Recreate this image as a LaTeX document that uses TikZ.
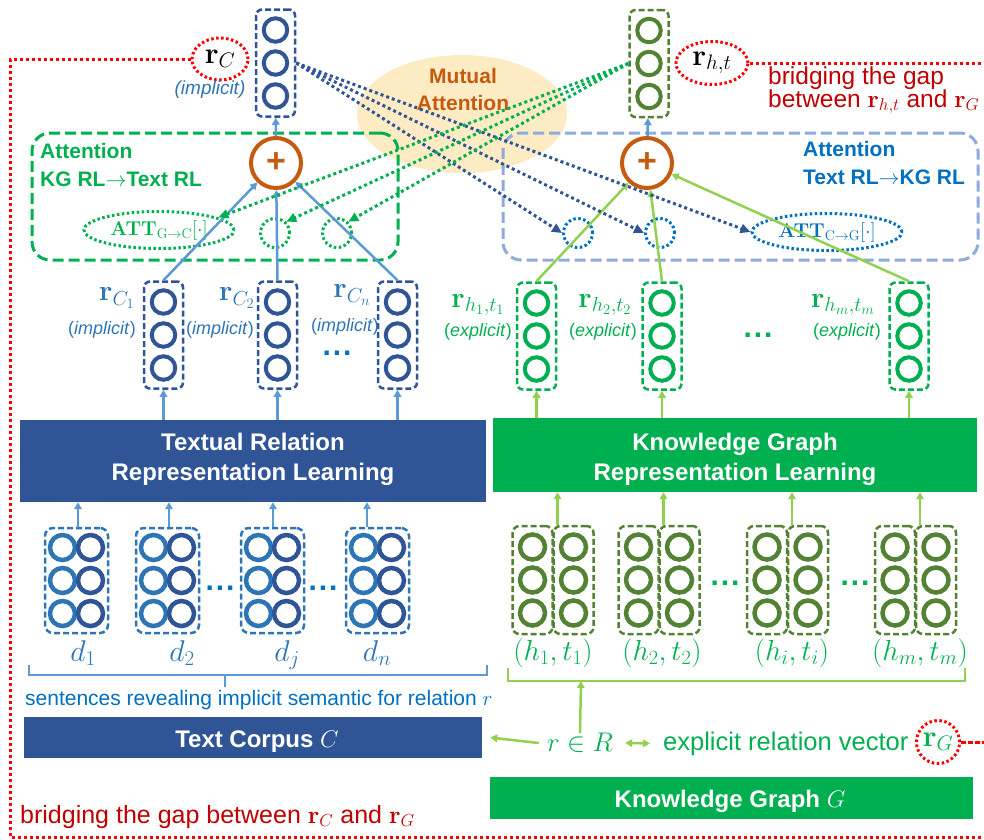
\RequirePackage{fix-cm}
\documentclass[tikz,border=0pt]{standalone}
\usepackage[no-math]{fontspec}
\setmainfont{Liberation Sans}
\usetikzlibrary{arrows.meta,shapes.geometric,calc}
\definecolor{cDB}{HTML}{2F5597}
\definecolor{cMB}{HTML}{2E75B6}
\definecolor{cLB}{HTML}{5B9BD5}
\definecolor{cPB}{HTML}{8FAADC}
\definecolor{cTB}{HTML}{0070C0}
\definecolor{cG}{HTML}{00B050}
\definecolor{cLG}{HTML}{92D050}
\definecolor{cDG}{HTML}{548235}
\definecolor{cOr}{HTML}{C55A11}
\definecolor{cRd}{HTML}{FF0000}
\definecolor{cDR}{HTML}{C00000}
\definecolor{cYel}{HTML}{FDEBC3}
\newcommand\fsz[2]{\fontsize{#1}{#2}\selectfont}
\newcommand\tdots{.\kern2pt.\kern2pt.}
\tikzset{
  ring/.style={circle,draw=#1,line width=4pt,minimum size=23.5pt,inner sep=0pt},
  bring/.style={circle,draw=#1,line width=4.5pt,minimum size=25pt,inner sep=0pt},
  vbox/.style={draw=#1,line width=2.5pt,dash pattern=on 6pt off 3pt,rounded corners=6pt,minimum width=39pt,minimum height=107pt,inner sep=0pt},
  dbox/.style={draw=cMB,line width=2.5pt,dash pattern=on 6pt off 3pt,rounded corners=8pt,minimum width=63pt,minimum height=105pt,inner sep=0pt},
  kbox/.style={draw=cDG,line width=2.5pt,dash pattern=on 6pt off 3pt,rounded corners=7pt,minimum width=40pt,minimum height=108pt,inner sep=0pt},
  attbox/.style={draw=#1,line width=3pt,dash pattern=on 11pt off 5pt,rounded corners=18pt,inner sep=0pt},
  plusc/.style={circle,draw=cOr,fill=white,line width=4pt,minimum size=50pt,inner sep=0pt,text=cOr,font=\bfseries\fsz{34}{34}},
  redell/.style={ellipse,draw=cRd,line width=3pt,dash pattern=on 2.5pt off 2.5pt,inner sep=0pt,font=\fsz{30}{30}},
  smallc/.style={circle,draw=#1,line width=3pt,dash pattern=on 2.5pt off 2.5pt,minimum size=29pt,inner sep=0pt},
  attell/.style={ellipse,draw=#1,text=#1,line width=3pt,dash pattern=on 2.5pt off 2.5pt,minimum width=150pt,minimum height=37pt,inner sep=0pt,font=\fsz{20}{20}},
  bigbox/.style={fill=#1,draw=none,inner sep=0pt},
  boxtxt/.style={text=white,font=\bfseries\fsz{24}{30},anchor=base,inner sep=0pt},
  upar/.style={draw=#1,line width=2.5pt,-{Triangle[length=7pt,width=7.5pt]}},
  dotar/.style={draw=#1,line width=3pt,dash pattern=on 3pt off 3pt,-{Triangle[length=10pt,width=9pt]}},
  reddot/.style={draw=cRd,line width=3pt,dash pattern=on 3pt off 3pt},
  mlab/.style={text=#1,font=\fsz{29}{29},inner sep=0pt},
  ilab/.style={text=#1,font=\fsz{18}{20},inner sep=0pt},
  ellip/.style={text=#1,font=\bfseries\fsz{30}{30},inner sep=0pt,anchor=base},
}
\newcommand\VecThree[5]{%
  \node[vbox=#4] (#1) at (#2,#3) {};
  \foreach \k/\dy in {1/-33,2/0,3/33}{\node[ring=#5] (#1-\k) at ({#2},{#3+(\dy)}) {};}
}
\newcommand\DocBlock[3]{%
  \node[dbox] (#1) at (#2,#3) {};
  \foreach \k/\dy in {1/-33,2/0,3/33}{%
    \node[bring=cMB] (#1-a\k) at ({#2-14},{#3+(\dy)}) {};
    \node[bring=cDB] (#1-b\k) at ({#2+14},{#3+(\dy)}) {};}
}
\newcommand\KGPair[3]{%
  \node[kbox] (#1-l) at (#2,#3) {};
  \node[kbox] (#1-r) at ({#2+41},#3) {};
  \foreach \k/\dy in {1/-33,2/0,3/33}{%
    \node[bring=cDG] (#1-a\k) at ({#2},{#3+(\dy)}) {};
    \node[bring=cDG] (#1-b\k) at ({#2+41},{#3+(\dy)}) {};}
}
\begin{document}
\begin{tikzpicture}[x=1pt,y=-1pt]
\useasboundingbox (0,0) rectangle (984,839);
% mutual attention
\node[ellipse,fill=cYel,minimum width=210pt,minimum height=118pt,inner sep=0pt] (mut) at (462,114) {};
\node[text=cOr,font=\bfseries\fsz{21}{27},align=center,inner sep=0pt] (mutT) at (463,89) {Mutual\\Attention};
% attention boxes
\node[attbox=cG,minimum width=366pt,minimum height=127pt] (attL) at (215,196.5) {};
\node[attbox=cPB,minimum width=475pt,minimum height=127pt] (attR) at (740.5,196.5) {};
\node[anchor=north west,text=cG,font=\bfseries\fsz{21}{28},align=left,inner sep=0pt] (attLT) at (40,143) {Attention\\KG RL$\rightarrow$Text RL};
\node[anchor=north west,text=cTB,font=\bfseries\fsz{21}{28},align=left,inner sep=0pt] (attRT) at (803,141) {Attention\\Text RL$\rightarrow$KG RL};
% attention targets
\node[attell=cG] (attGC) at (159,230) {$\mathbf{ATT}_{\mathrm{G\to C}}[\cdot]$};
\node[smallc=cG] (g2) at (275,233) {};
\node[smallc=cG] (g3) at (337,233) {};
\node[smallc=cTB] (s1) at (578,233) {};
\node[smallc=cTB] (s2) at (660,233) {};
\node[attell=cTB] (attCG) at (827,232) {$\mathbf{ATT}_{\mathrm{C\to G}}[\cdot]$};
% plus circles
\node[plusc] (pL) at (276,163) {+};
\node[plusc] (pR) at (647,163) {+};
% top vectors
\VecThree{vC}{275.5}{63}{cDB}{cDB}
\VecThree{vH}{649}{63.5}{cDG}{cDG}
\node[redell,minimum width=56pt,minimum height=42pt] (rC) at (220,59) {$\mathbf{r}_C$};
\node[ilab=cMB,font=\itshape\fsz{19}{20}] (implT) at (210,90) {(implicit)};
\node[redell,minimum width=72pt,minimum height=43pt] (rHT) at (712,63) {$\mathbf{r}_{h,t}$};
\node[anchor=base west,text=cDR,font=\fsz{24.5}{24},inner sep=0pt] (br1) at (768,84) {bridging the gap};
\node[anchor=base west,text=cDR,font=\fsz{24.5}{24},inner sep=0pt] (br2) at (768,107) {between $\mathbf{r}_{h,t}$ and $\mathbf{r}_G$};
% middle vectors
\VecThree{rc1}{163.5}{335}{cDB}{cDB}
\VecThree{rc2}{277.5}{335}{cDB}{cDB}
\VecThree{rcn}{397.5}{335}{cDB}{cDB}
\VecThree{rh1}{536.5}{336}{cG}{cG}
\VecThree{rh2}{662}{336}{cG}{cG}
\VecThree{rhm}{909}{336}{cG}{cG}
\node[mlab=cMB] (lc1) at (117,298) {$\mathbf{r}_{C_1}$};
\node[ilab=cMB] (ic1) at (102,330) {(\textit{implicit})};
\node[mlab=cMB] (lc2) at (237,298) {$\mathbf{r}_{C_2}$};
\node[ilab=cMB] (ic2) at (220,330) {(\textit{implicit})};
\node[mlab=cMB] (lcn) at (352,295) {$\mathbf{r}_{C_n}$};
\node[ilab=cMB] (icn) at (345,327) {(\textit{implicit})};
\node[ellip=cTB] (dotC) at (337,355) {\tdots};
\node[mlab=cG] (lh1) at (478,305) {$\mathbf{r}_{h_1,t_1}$};
\node[ilab=cG] (eh1) at (478,332) {(\textit{explicit})};
\node[mlab=cG] (lh2) at (605,305) {$\mathbf{r}_{h_2,t_2}$};
\node[ilab=cG] (eh2) at (603,332) {(\textit{explicit})};
\node[mlab=cG] (lhm) at (843,305) {$\mathbf{r}_{h_m,t_m}$};
\node[ilab=cG] (ehm) at (847,332) {(\textit{explicit})};
\node[ellip=cG] (dotH) at (758,337) {\tdots};
% representation learning boxes
\node[bigbox=cDB,minimum width=466pt,minimum height=82pt] (trl) at (253,461) {};
\node[boxtxt] (trl1) at (253,450) {Textual Relation};
\node[boxtxt] (trl2) at (253,480) {Representation Learning};
\node[bigbox=cG,minimum width=484pt,minimum height=74pt] (kgrl) at (735,455) {};
\node[boxtxt] (kgrl1) at (735,450) {Knowledge Graph};
\node[boxtxt] (kgrl2) at (735,480) {Representation Learning};
% documents
\DocBlock{d1}{76.5}{580.5}
\DocBlock{d2}{167.5}{580.5}
\DocBlock{dj}{272.5}{580.5}
\DocBlock{dn}{377.5}{580.5}
\node[ellip=cTB] (dotD1) at (220,590) {\tdots};
\node[ellip=cTB] (dotD2) at (323,590) {\tdots};
\node[mlab=cMB,font=\fsz{30}{30}] (ld1) at (83,653) {$d_1$};
\node[mlab=cMB,font=\fsz{30}{30}] (ld2) at (182,653) {$d_2$};
\node[mlab=cMB,font=\fsz{30}{30}] (ldj) at (287,655) {$d_j$};
\node[mlab=cMB,font=\fsz{30}{30}] (ldn) at (377,653) {$d_n$};
% KG pairs
\KGPair{p1}{532.5}{580}
\KGPair{p2}{638.5}{580}
\KGPair{p3}{767}{580}
\KGPair{p4}{895}{580}
\node[ellip=cG] (dotP1) at (725,585) {\tdots};
\node[ellip=cG] (dotP2) at (855,585) {\tdots};
\node[mlab=cG,font=\fsz{29}{29}] (lp1) at (553,653) {$(h_1,t_1)$};
\node[mlab=cG,font=\fsz{29}{29}] (lp2) at (662,653) {$(h_2,t_2)$};
\node[mlab=cG,font=\fsz{29}{29}] (lp3) at (792,653) {$(h_i,t_i)$};
\node[mlab=cG,font=\fsz{29}{29}] (lp4) at (920,653) {$(h_m,t_m)$};
% brackets
\draw[cLB,line width=2.5pt] (29,665) -- (29,675) -- (487,675) -- (487,665);
\draw[cLB,line width=2.5pt] (225,675) -- (225,687);
\draw[cLG,line width=2.5pt] (508,668) -- (508,681) -- (965,681) -- (965,668);
\coordinate (brG) at (581,681);
\node[anchor=base west,text=cTB,font=\fsz{21}{22},inner sep=0pt] (sent) at (25,705) {sentences revealing implicit semantic for relation $r$};
% bottom boxes
\node[bigbox=cDB,minimum width=458pt,minimum height=41pt] (tc) at (253,737.5) {};
\node[boxtxt] (tcT) at (257,747) {Text Corpus $C$};
\node[bigbox=cG,minimum width=483pt,minimum height=42pt] (kg) at (731.5,798) {};
\node[boxtxt] (kgT) at (730,807) {Knowledge Graph $G$};
\node[text=cG,font=\fsz{27}{27},inner sep=0pt] (rR) at (580,743) {$r\in R$};
\node[anchor=base west,text=cG,font=\fsz{25.5}{25},inner sep=0pt] (expl) at (663,750) {explicit relation vector};
\node[redell,minimum width=42pt,minimum height=43pt,text=cG] (rG) at (938,742) {$\mathbf{r}_G$};
\node[anchor=base west,text=cDR,font=\fsz{25}{25},inner sep=0pt] (br3) at (20,823) {bridging the gap between $\mathbf{r}_C$ and $\mathbf{r}_G$};
% red frame
\coordinate (c1) at (10,59);
\coordinate (c2) at (10,837);
\coordinate (c3) at (984,837);
\coordinate (c4) at (984,63);
\coordinate (c5) at (984,742);
\draw[reddot] (rC.west) -- (c1) -- (c2) -- (c3);
\draw[reddot] (rHT.east) -- (c4);
\draw[draw=cRd,line width=3pt,dash pattern=on 5pt off 2pt] (rG.east) -- (c5);
% arrows bottom
\draw[upar=cLG] (rR.north) -- (brG);
\draw[upar=cLG] ([xshift=-8pt]rR.west) -- ([xshift=8pt]tc.east);
\draw[draw=cLG,line width=2.5pt,{Triangle[length=7pt,width=7.5pt]}-{Triangle[length=7pt,width=7.5pt]}] ([xshift=12pt]rR.east) -- ([xshift=-13pt]expl.west);
\draw[upar=cLB] ([xshift=1.5pt]d1.north) -- ([xshift=1.5pt]d1.north |- trl.south);
\draw[upar=cLB] ([xshift=1.5pt]d2.north) -- ([xshift=1.5pt]d2.north |- trl.south);
\draw[upar=cLB] ([xshift=0.5pt]dj.north) -- ([xshift=0.5pt]dj.north |- trl.south);
\draw[upar=cLB] ([xshift=-10.5pt]dn.north) -- ([xshift=-10.5pt]dn.north |- trl.south);
\foreach \p in {p1,p2,p3,p4}{\draw[upar=cLG] ([xshift=-16pt]\p-r.north) -- ([xshift=-16pt]\p-r.north |- kgrl.south);}
% arrows to middle vectors
\foreach \v in {rc1,rc2,rcn}{\draw[upar=cLB] (trl.north -| \v) -- (\v.south);}
\foreach \v in {rh1,rh2,rhm}{\draw[upar=cLG] (kgrl.north -| \v) -- (\v.south);}
% to plus
\foreach \v in {rc1,rc2,rcn}{\draw[upar=cLB] (\v.north) -- (pL);}
\foreach \v in {rh1,rh2,rhm}{\draw[upar=cLG] (\v.north) -- (pR);}
\draw[upar=cLB] (pL) -- (vC);
\draw[upar=cLB] (pR) -- (vH);
% mutual attention dotted
\draw[dotar=cDB] (vC.east) -- (s1.west);
\draw[dotar=cDB] (vC.east) -- (s2.west);
\draw[dotar=cDB] (vC.east) -- (attCG.west);
\draw[dotar=cG] (vH.west) -- (attGC.12);
\draw[dotar=cG] (vH.west) -- (g2.45);
\draw[dotar=cG] (vH.west) -- (g3.45);
\end{tikzpicture}
\end{document}
